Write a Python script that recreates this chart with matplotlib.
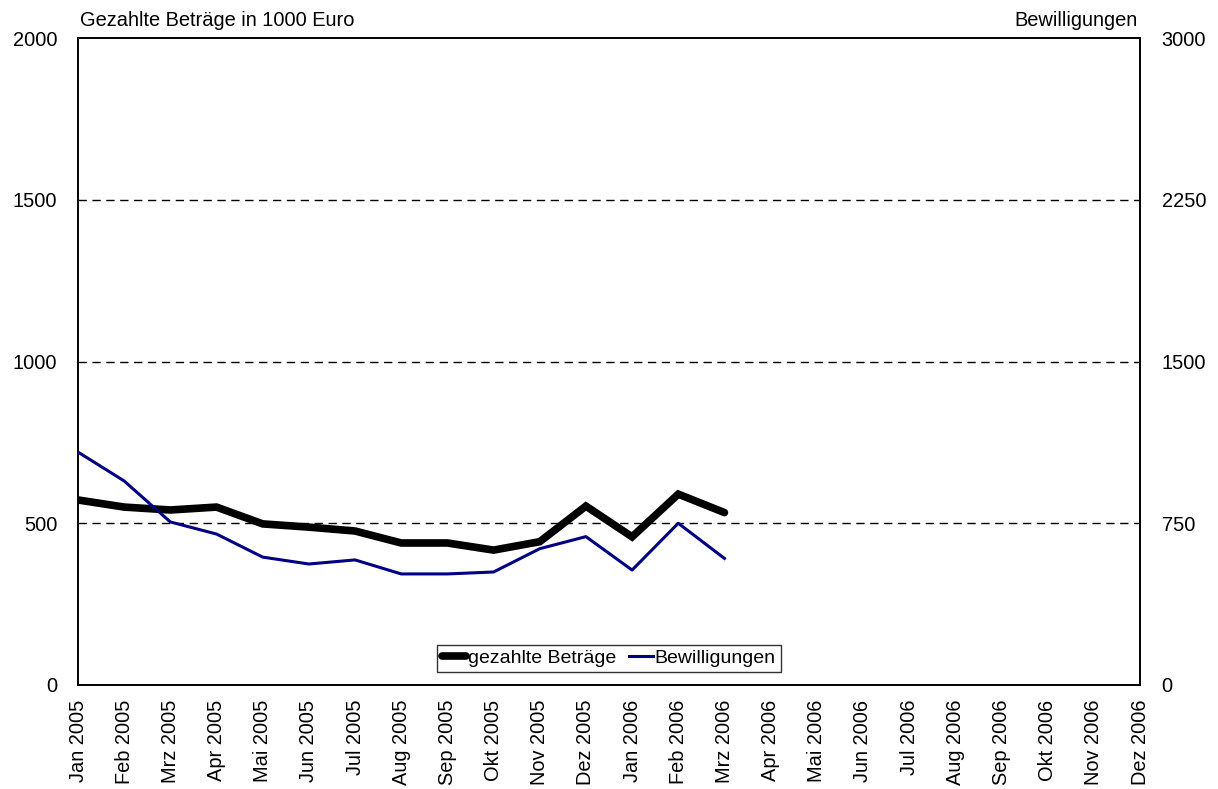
import matplotlib
matplotlib.use("Agg")
import matplotlib.pyplot as plt

plt.rcParams['font.family'] = ['Liberation Sans', 'DejaVu Sans']

months = ["Jan 2005", "Feb 2005", "Mrz 2005", "Apr 2005", "Mai 2005", "Jun 2005",
          "Jul 2005", "Aug 2005", "Sep 2005", "Okt 2005", "Nov 2005", "Dez 2005",
          "Jan 2006", "Feb 2006", "Mrz 2006", "Apr 2006", "Mai 2006", "Jun 2006",
          "Jul 2006", "Aug 2006", "Sep 2006", "Okt 2006", "Nov 2006", "Dez 2006"]
gezahlte = [572, 550, 541, 550, 498, 488, 476, 439, 439, 417, 443, 553, 458, 590, 533]
bewilligungen = [1080, 946, 756, 700, 593, 561, 580, 515, 515, 524, 632, 688, 533, 750, 587]
left_ticks = [0, 500, 1000, 1500, 2000]
right_ticks = [0, 750, 1500, 2250, 3000]

fig = plt.figure(figsize=(12.18, 7.89), dpi=100)
ax = fig.add_axes([78/1218, 1-685/789, (1140-78)/1218, (685-38)/789])
ax2 = ax.twinx()

x = list(range(len(months)))
l1, = ax.plot(x[:len(gezahlte)], gezahlte, color='black', lw=5.5, solid_capstyle='round',
              solid_joinstyle='miter', label='gezahlte Beträge', zorder=3)
l2, = ax2.plot(x[:len(bewilligungen)], bewilligungen, color='#000080', lw=2.2,
               label='Bewilligungen', zorder=3)

ax.set_xlim(0, len(months) - 1)
ax.set_ylim(0, 2000)
ax2.set_ylim(0, 3000)
ax.set_yticks(left_ticks)
ax2.set_yticks(right_ticks)
ax.set_xticks(x)
ax.set_xticklabels(months, rotation=90, fontsize=14.4)
ax.tick_params(axis='x', length=0, pad=10.5)
ax.tick_params(axis='y', length=0, pad=15, labelsize=14.4)
ax2.tick_params(axis='y', length=0, pad=15.5, labelsize=14.4)

for v in left_ticks[1:-1]:
    ax.axhline(v, color='black', lw=1, ls=(0, (6, 4)), zorder=1)

for a in (ax, ax2):
    for s in a.spines.values():
        s.set_linewidth(1.2)
        s.set_color('black')

ax.text(0.002, 1.012, 'Gezahlte Beträge in 1000 Euro', transform=ax.transAxes,
        ha='left', va='bottom', fontsize=14.4)
ax2.text(0.998, 1.012, 'Bewilligungen', transform=ax2.transAxes,
         ha='right', va='bottom', fontsize=14.4)

leg = ax2.legend([l1, l2], ['gezahlte Beträge', 'Bewilligungen'], loc='lower center',
                 bbox_to_anchor=(0.5, 0.02), ncol=2, fontsize=14.0, frameon=True,
                 fancybox=False, handlelength=1.2, handletextpad=0.1,
                 columnspacing=0.7, borderpad=0.25, borderaxespad=0)
leg.get_frame().set_edgecolor('black')
leg.get_frame().set_linewidth(1.0)

fig.savefig('out.png', dpi=100)
